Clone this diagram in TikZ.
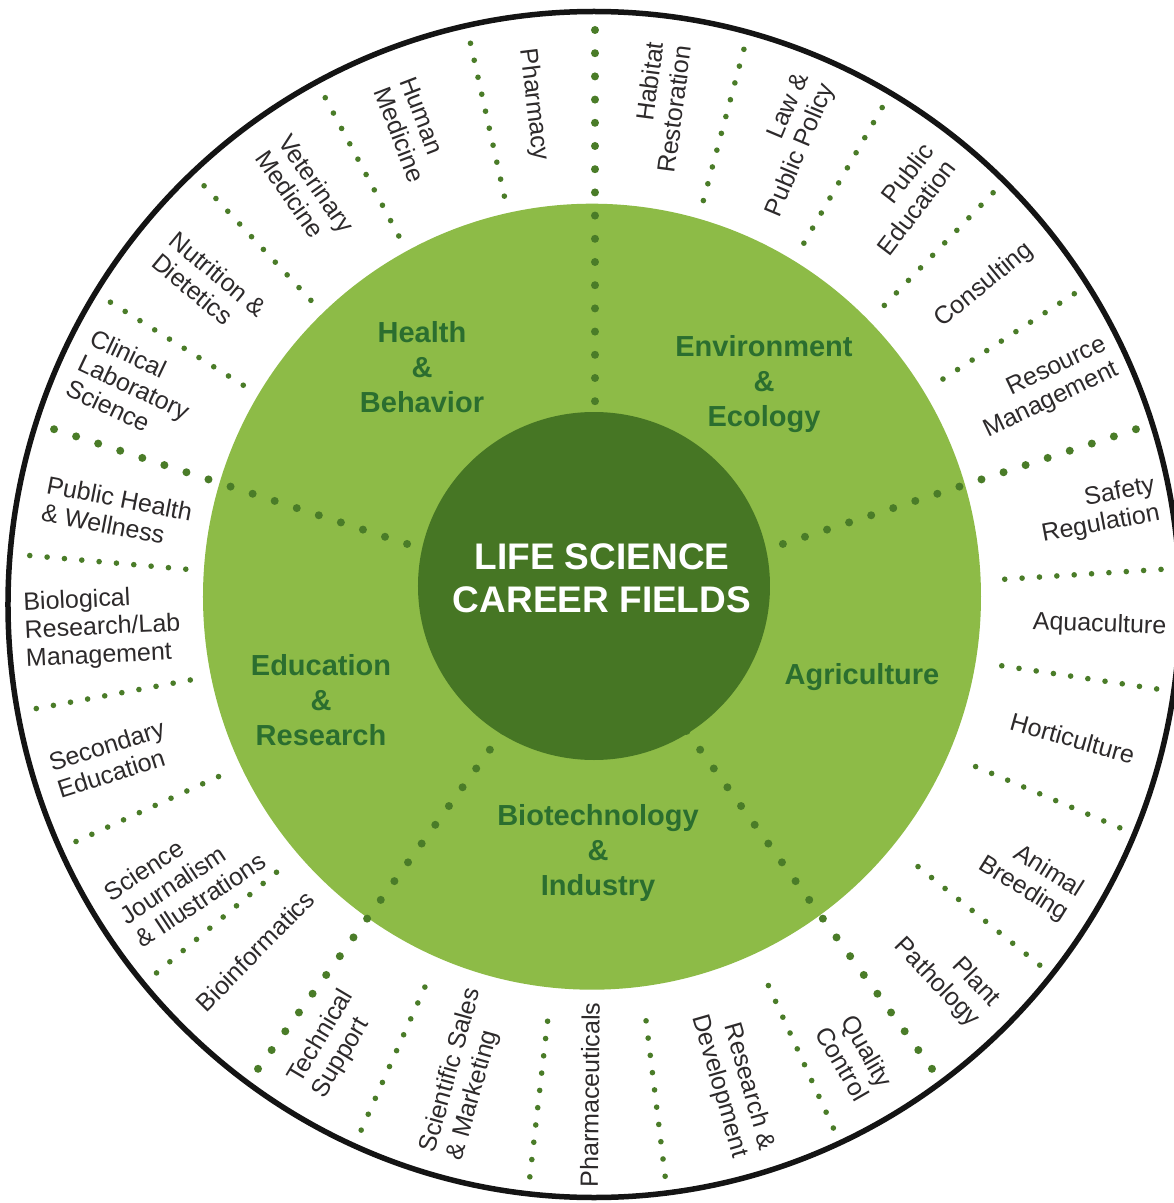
\documentclass[tikz,border=0pt]{standalone}
\usepackage{fontspec}
\setmainfont{Liberation Sans}
\definecolor{leaf}{RGB}{141,187,71}
\definecolor{forest}{RGB}{70,118,36}
\definecolor{fieldtext}{RGB}{43,110,47}
\definecolor{dotgreen}{RGB}{74,124,40}
\definecolor{ink}{RGB}{45,42,43}
\tikzset{
  career/.style={font=\fontsize{25}{28}\selectfont,text=ink,inner sep=0pt},
  field/.style={font=\fontsize{29}{35}\selectfont\bfseries,text=fieldtext,align=center,inner sep=0pt},
  hubtext/.style={font=\fontsize{37}{43}\selectfont\bfseries,text=white,align=center,inner sep=0pt}
}
\begin{document}
\begin{tikzpicture}[x=1pt,y=1pt]
  \useasboundingbox (-595,-598) rectangle (579,605);
  \fill[white] (-595,-598) rectangle (579,605);
  \draw[line width=5.5pt,black!92] (-1,0.5) ellipse [x radius=586,y radius=593];
  \fill[leaf] (-3,8.3) ellipse [x radius=389,y radius=393];
  \foreach \ang in {102.5,118,133,148,75,60,46,33,175,190.5,204.5,220,246,263.5,277,294.5,321,337,351.5,363.6}{
    \foreach \k in {0,...,9}{
      \pgfmathsetmacro{\rad}{410+9*abs(sin(\ang))+17.4*\k}
      \fill[dotgreen] (\ang:\rad) circle (2.8);
    }
  }
  \foreach \ang in {18,90,162,234,306}{
    \foreach \k in {0,...,18}{
      \pgfmathsetmacro{\rad}{566+9*abs(sin(\ang))-23.2*\k}
      \fill[dotgreen] (\ang:\rad) circle (4);
    }
  }
  \fill[forest] (-1,19) ellipse [x radius=176,y radius=174];
  \node[hubtext] (hub) at (7,27) {LIFE SCIENCE\\CAREER FIELDS};
  \node[field] (health) at (-173,238) {Health\\\&\\Behavior};
  \node[field] (environment) at (169,221) {Environment\\\&\\Ecology};
  \node[field] (education) at (-274,-95) {Education\\\&\\Research};
  \node[field] (agriculture) at (267,-72) {Agriculture};
  \node[field] (biotech) at (3,-248) {Biotechnology\\\&\\Industry};
  \foreach \ang/\rad/\txt [count=\i] in {
    97/504/{Pharmacy},
    111/509/{Human\\Medicine},
    125/505/{Veterinary\\Medicine},
    140.3/501/{Nutrition \&\\Dietetics},
    154.7/510/{Clinical\\Laboratory\\Science},
    169/487/{Public Health\\\& Wellness},
    182.7/493/{Biological\\Research/Lab\\Management},
    197.6/508/{Secondary\\Education},
    213.5/492/{Science\\Journalism\\\& Illustrations},
    225.5/485/{Bioinformatics},
    239.2/511/{Technical\\Support},
    254.5/487/{Scientific Sales\\\& Marketing},
    269.4/490/{Pharmaceuticals}}{
    \node[career,align=left,rotate=\ang-180] (inward\i) at (\ang:\rad) {\txt};
  }
  \foreach \ang/\rad/\txt [count=\i] in {
    -73.9/497/{Research \&\\Development},
    -60.1/521/{Quality\\Control},
    -46.3/509/{Plant\\Pathology},
    -32/514/{Animal\\Breeding},
    -15.6/496/{Horticulture},
    -2.3/505/{Aquaculture},
    10.6/512/{Safety\\Regulation},
    25.7/500/{Resource\\Management},
    39.4/504/{Consulting},
    52.6/511/{Public\\Education},
    67.2/499/{Law \&\\Public Policy},
    82.5/502/{Habitat\\Restoration}}{
    \node[career,align=right,rotate=\ang] (outward\i) at (\ang:\rad) {\txt};
  }
\end{tikzpicture}
\end{document}
